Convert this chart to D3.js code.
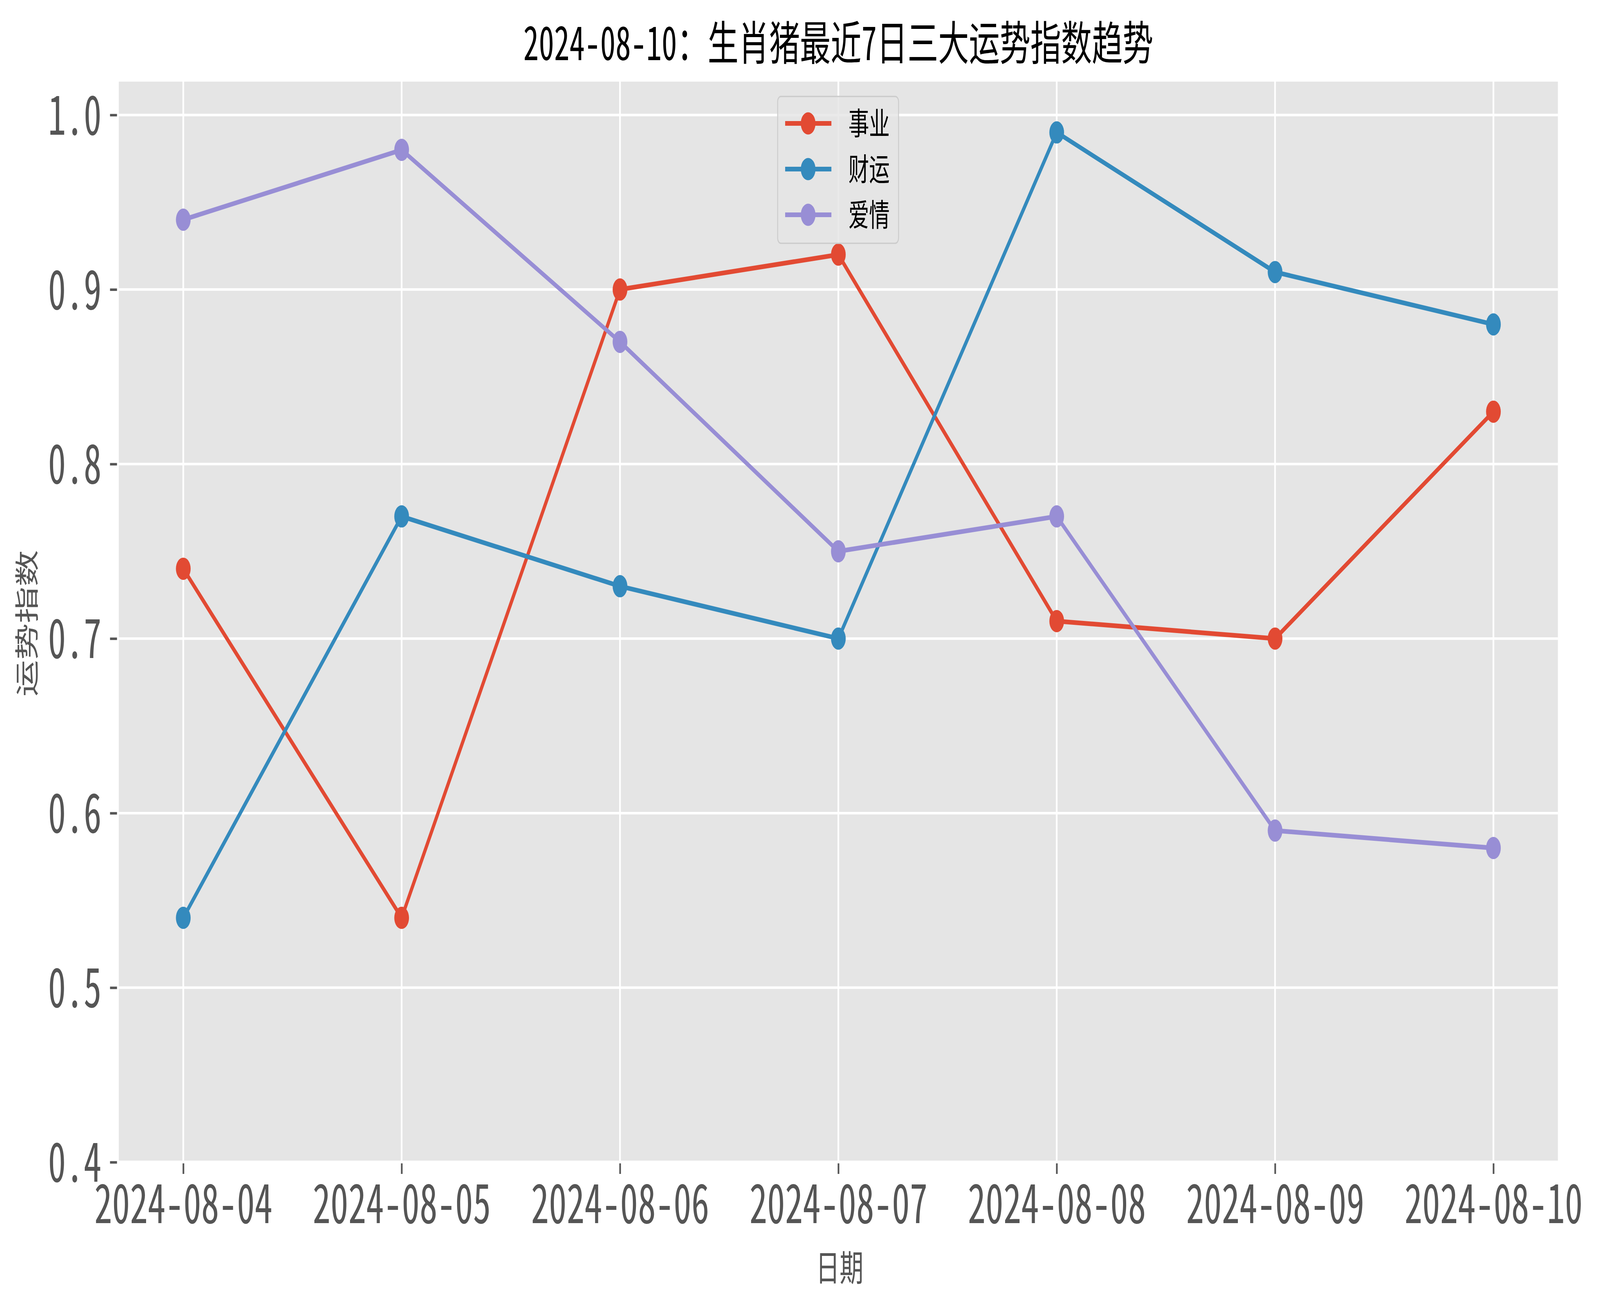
<!DOCTYPE html>
<html><head><meta charset="utf-8">
<script src="https://cdn.jsdelivr.net/npm/d3@7/dist/d3.min.js"></script>
<style>
html,body{margin:0;padding:0;background:#fff;overflow:hidden;width:100%;height:100%}
svg{display:block;width:100vw;height:100vh}
svg text{font-family:"Noto Sans CJK SC","Noto Sans",sans-serif}
.hw{font-feature-settings:"hwid" 1}
</style>
</head><body>
<svg id="chart" viewBox="0 0 6195 3334" preserveAspectRatio="none"></svg>
<script>
// ---- data ----
const dates = ["2024-08-04","2024-08-05","2024-08-06","2024-08-07","2024-08-08","2024-08-09","2024-08-10"];
const seriesNames = ["事业","财运","爱情"];
const careerValues = [0.74,0.54,0.90,0.92,0.71,0.70,0.83];
const wealthValues = [0.54,0.77,0.73,0.70,0.99,0.91,0.88];
const loveValues   = [0.94,0.98,0.87,0.75,0.77,0.59,0.58];
const yTickValues = [0.4,0.5,0.6,0.7,0.8,0.9,1.0];
const titleText = "2024-08-10：生肖猪最近7日三大运势指数趋势";
const xLabel = "日期";
const yLabel = "运势指数";

const seriesValues = [careerValues, wealthValues, loveValues];
const colors = ["#E24A33","#348ABD","#988ED5"];

// ---- layout ----
const W = 6195, H = 3334;
const axL = 456, axR = 6036, axT = 205, axB = 2976;
const svg = d3.select("#chart");

const x = d3.scaleLinear().domain([-0.3, dates.length - 1 + 0.3]).range([axL, axR]);
const y = d3.scaleLinear().domain([0.4, 1.02]).range([axB, axT]);

// background
svg.append("rect").attr("x",0).attr("y",0).attr("width",W).attr("height",H).attr("fill","#fff");
svg.append("rect").attr("x",axL+4).attr("y",axT+4).attr("width",axR-axL-8).attr("height",axB-axT-8).attr("fill","#E5E5E5");

// grid
const grid = svg.append("g");
grid.selectAll("line.h").data(yTickValues.filter(v=>v>0.4)).join("line")
  .attr("x1",axL+4).attr("x2",axR-4).attr("y1",d=>y(d)).attr("y2",d=>y(d))
  .attr("stroke","#fff").attr("stroke-width",6.5);
grid.selectAll("line.v").data(dates.map((d,i)=>i)).join("line")
  .attr("x1",d=>x(d)).attr("x2",d=>x(d)).attr("y1",axT+4).attr("y2",axB-4)
  .attr("stroke","#fff").attr("stroke-width",6.5);

// axes
const xAxis = d3.axisBottom(x).tickValues(dates.map((d,i)=>i)).tickFormat(i=>dates[i]).tickSize(27).tickPadding(0);
const gx = svg.append("g").attr("transform",`translate(0,${axB+3})`).call(xAxis);
gx.select(".domain").remove();
gx.selectAll(".tick line").attr("stroke","#555").attr("stroke-width",6.4);
gx.selectAll(".tick text").attr("class","hw").attr("fill","#555").attr("font-size",138)
  .attr("font-family",'"Noto Sans CJK SC","Noto Sans",sans-serif')
  .attr("y",3132-(axB+3)).attr("dy",0);

const yAxis = d3.axisLeft(y).tickValues(yTickValues).tickFormat(d3.format(".1f")).tickSize(27).tickPadding(0);
const gy = svg.append("g").attr("transform",`translate(${axL-3},0)`).call(yAxis);
gy.select(".domain").remove();
gy.selectAll(".tick line").attr("stroke","#555").attr("stroke-width",6.4);
gy.selectAll(".tick text").attr("class","hw").attr("fill","#555").attr("font-size",138)
  .attr("font-family",'"Noto Sans CJK SC","Noto Sans",sans-serif')
  .attr("x",393-(axL-3)).attr("dy","0.36em");

// lines + markers
const line = d3.line().x((d,i)=>x(i)).y(d=>y(d));
seriesValues.forEach((vals,si)=>{
  const g = svg.append("g");
  g.append("path").datum(vals).attr("d",line).attr("fill","none")
    .attr("stroke",colors[si]).attr("stroke-width",12).attr("stroke-linejoin","round").attr("stroke-linecap","butt");
  g.selectAll("circle").data(vals).join("circle")
    .attr("cx",(d,i)=>x(i)).attr("cy",d=>y(d)).attr("r",28.5).attr("fill",colors[si]);
});

// legend
const lg = svg.append("g");
lg.append("rect").attr("x",3011).attr("y",247).attr("width",468).attr("height",376).attr("rx",13)
  .attr("fill","rgba(229,229,229,0.8)").attr("stroke","#CCCCCC").attr("stroke-width",3.5);
const rowY = [316, 433, 550];
seriesNames.forEach((name,si)=>{
  lg.append("line").attr("x1",3040).attr("x2",3219).attr("y1",rowY[si]).attr("y2",rowY[si])
    .attr("stroke",colors[si]).attr("stroke-width",12);
  lg.append("circle").attr("cx",3129).attr("cy",rowY[si]).attr("r",28.5).attr("fill",colors[si]);
  lg.append("text").attr("x",3285).attr("y",rowY[si]).attr("dy","0.36em").attr("font-size",80)
    .attr("fill","#000").text(name);
});

// title & labels
svg.append("text").attr("class","hw").attr("x",(axL+axR)/2).attr("y",154).attr("text-anchor","middle")
  .attr("font-size",119).attr("fill","#000").text(titleText);
svg.append("text").attr("x",3251).attr("y",3280).attr("text-anchor","middle")
  .attr("font-size",92).attr("fill","#555").text(xLabel);
svg.append("text").attr("transform","translate(105,1596) rotate(-90)").attr("dy","0.36em").attr("text-anchor","middle")
  .attr("font-size",94).attr("fill","#555").text(yLabel);
</script>
</body></html>
